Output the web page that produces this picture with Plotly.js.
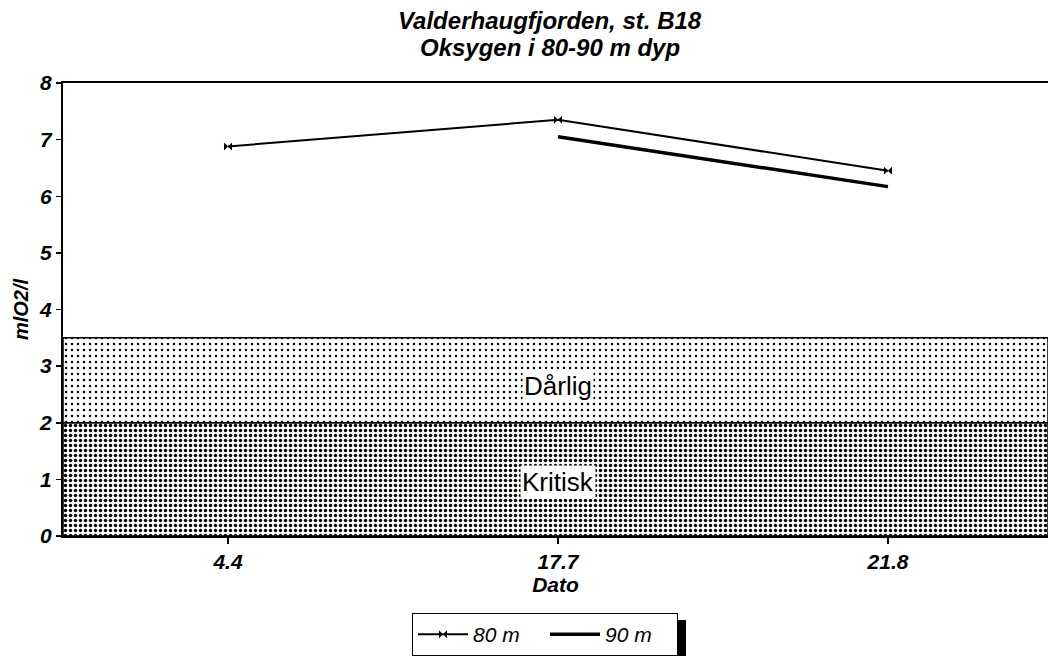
<!DOCTYPE html>
<html>
<head>
<meta charset="utf-8">
<script src="https://cdn.plot.ly/plotly-3.0.1.min.js"></script>
<style>
html,body{margin:0;padding:0;background:#fff;}
#chart{width:1048px;height:656px;}
</style>
</head>
<body>
<div id="chart"></div>
<script>
// Data
const titleLines = ['Valderhaugfjorden, st. B18', 'Oksygen i 80-90 m dyp'];
const dates = ['4.4', '17.7', '21.8'];
const datePos = [0, 1, 2];
const seriesNames = ['80 m', '90 m'];
const oxy80 = [6.88, 7.35, 6.45];
const oxy90 = [null, 7.05, 6.17];
const kritiskBand = [0, 2];
const darligBand = [2, 3.5];
const bandLabels = ['Dårlig', 'Kritisk'];
const bandLabelY = [2.65, 0.95];
const xRange = [-0.5, 2.485];

const FONT = 'Liberation Sans, Arial, sans-serif';

function bandTrace(lims, pat) {
  return {
    type: 'scatter', mode: 'lines',
    x: [xRange[0], xRange[1], xRange[1], xRange[0], xRange[0]],
    y: [lims[0], lims[0], lims[1], lims[1], lims[0]],
    fill: 'toself', fillcolor: 'white',
    fillpattern: pat,
    line: {color: 'black', width: 1.5},
    showlegend: false, hoverinfo: 'skip'
  };
}

const traces = [
  bandTrace(kritiskBand, {shape: '.', fgcolor: 'black', bgcolor: 'white', size: 5, solidity: 0.36}),
  bandTrace(darligBand, {shape: '.', fgcolor: 'black', bgcolor: 'white', size: 6, solidity: 0.14}),
  {
    type: 'scatter', mode: 'lines+markers', name: '<i>' + seriesNames[0] + '</i>',
    x: datePos, y: oxy80,
    line: {color: 'black', width: 2},
    marker: {symbol: 'bowtie', size: 8, color: 'black'}
  },
  {
    type: 'scatter', mode: 'lines', name: '<i>' + seriesNames[1] + '</i>',
    x: datePos, y: oxy90,
    line: {color: 'black', width: 3.5}
  }
];

function px2x(p) { return (p - 63) / 985; }
function px2y(p) { return (536 - p) / 453; }

const layout = {
  width: 1048, height: 656,
  margin: {l: 63, r: 0, t: 83, b: 120},
  paper_bgcolor: 'white', plot_bgcolor: 'white',
  font: {family: FONT, color: 'black'},
  title: {
    text: '<b><i>' + titleLines[0] + '</i></b>',
    font: {family: FONT, size: 24, color: 'black'},
    xref: 'paper', x: 0.494, xanchor: 'center',
    yref: 'container', y: 0.982, yanchor: 'top'
  },
  xaxis: {
    range: xRange,
    tickvals: datePos,
    ticktext: dates.map(d => '<b><i>' + d + '</i></b>'),
    ticks: 'outside', ticklen: 6, tickwidth: 1.5, tickcolor: 'black',
    showline: true, linecolor: 'black', linewidth: 2, mirror: true,
    showgrid: false, zeroline: false,
    tickfont: {family: FONT, size: 21, color: 'black'},
    title: {text: '<b><i>Dato</i></b>', font: {family: FONT, size: 21, color: 'black'}, standoff: 0}
  },
  yaxis: {
    range: [0, 8],
    dtick: 1,
    tickprefix: '<b><i>', ticksuffix: '</i></b>',
    ticks: 'outside', ticklen: 5, tickwidth: 1.5, tickcolor: 'black',
    showline: true, linecolor: 'black', linewidth: 2, mirror: true,
    showgrid: false, zeroline: false,
    tickfont: {family: FONT, size: 21, color: 'black'},
    title: {text: '<b><i>mlO2/l</i></b>', font: {family: FONT, size: 20, color: 'black'}, standoff: 5}
  },
  annotations: [
    {x: 0.494, y: px2y(47), xref: 'paper', yref: 'paper', text: '<b><i>' + titleLines[1] + '</i></b>',
     showarrow: false, xanchor: 'center', yanchor: 'middle',
     font: {family: FONT, size: 24, color: 'black'}},
    {x: 1, y: bandLabelY[0], xref: 'x', yref: 'y', text: bandLabels[0], showarrow: false,
     font: {family: FONT, size: 26, color: 'black'}, bgcolor: 'white', borderpad: 1},
    {x: 1, y: bandLabelY[1], xref: 'x', yref: 'y', text: bandLabels[1], showarrow: false,
     font: {family: FONT, size: 26, color: 'black'}, bgcolor: 'white', borderpad: 1}
  ],
  shapes: [
    {type: 'rect', xref: 'paper', yref: 'paper', layer: 'above',
     x0: px2x(418), x1: px2x(686), y0: px2y(656), y1: px2y(620),
     fillcolor: 'black', line: {width: 0}}
  ],
  legend: {
    orientation: 'h', x: px2x(412), xanchor: 'left', y: px2y(613), yanchor: 'top',
    bgcolor: 'white', bordercolor: 'black', borderwidth: 1,
    font: {family: FONT, size: 21, color: 'black'},
    itemwidth: 50,
    entrywidth: 67, entrywidthmode: 'pixels'
  },
  showlegend: true
};

Plotly.newPlot('chart', traces, layout, {displayModeBar: false, staticPlot: true});
</script>
</body>
</html>
